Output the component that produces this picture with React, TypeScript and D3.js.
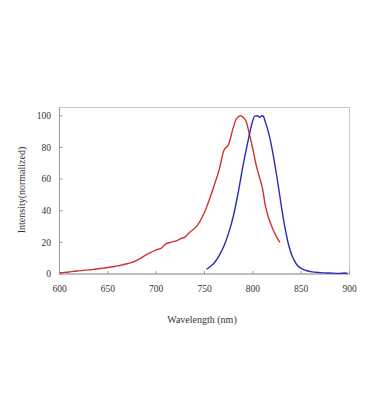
import React from "react";
import * as d3 from "d3";

const redWl = [600,605,610,615,620,625,630,635,640,645,650,655,660,665,670,675,680,685,690,695,700,705,710,715,720,725,730,735,740,745,750,755,760,765,770,775,780,783,787,790,793,797,800,803,806,810,813,816,819,822,825,828];
const redVal = [0.8,1.0,1.3,1.7,2.0,2.3,2.6,2.9,3.3,3.7,4.1,4.6,5.1,5.8,6.5,7.3,8.6,10.4,12.2,13.8,15.3,16.2,19.0,20.0,20.8,22.2,23.5,26.5,29.0,33.0,39.0,47,56,65.5,78,82,93,98,100,99,96.5,87,79,70,63,54,43,36,31,26.5,23,20];
const blueWl = [752,755,760,765,770,775,780,785,790,795,799,802,805,807,809.5,811,813,816,819,822,825,828,831,834,837,840,843,846,850,855,860,870,880,890,895,898];
const blueVal = [3,4.3,7,11.5,17.5,26,37,52,69,84,95,99.8,100,99,100,99.5,96,90,82,72,61,49,37,27,18.5,12.5,8.5,5.5,3.5,2.2,1.5,0.9,0.6,0.4,0.6,0.3];
const xTicks = [600,650,700,750,800,850,900];
const yTicks = [0,20,40,60,80,100];

export default function App() {
  const left = 59.5, right = 349.5, bottom = 274, top = 107.5;
  const x = d3.scaleLinear().domain([600, 900]).range([left, right]);
  const y = d3.scaleLinear().domain([0, 100]).range([bottom, 115.8]);
  const line = d3.line<[number, number]>().x(d => x(d[0])).y(d => y(d[1])).curve(d3.curveMonotoneX);
  const red = line(redWl.map((w, i) => [w, redVal[i]] as [number, number])) || "";
  const blue = line(blueWl.map((w, i) => [w, blueVal[i]] as [number, number])) || "";
  const font = "'Liberation Serif', 'Times New Roman', serif";
  return (
    <svg width={367} height={419} style={{ position: "absolute", left: 0, top: 0, background: "#fff" }}>
      <rect x={left} y={top} width={right - left} height={bottom - top} fill="#fff" stroke="#c8c8c8" strokeWidth={1} />
      <line x1={left} x2={left} y1={top} y2={bottom} stroke="#9a9a9a" />
      <line x1={left} x2={right} y1={bottom} y2={bottom} stroke="#9a9a9a" />
      {xTicks.map(t => (
        <g key={"x" + t}>
          <line x1={x(t)} x2={x(t)} y1={bottom} y2={bottom - 3} stroke="#9a9a9a" />
          <text x={x(t)} y={292} textAnchor="middle" fontFamily={font} fontSize={9.5} fill="#333">{t}</text>
        </g>
      ))}
      {yTicks.map(t => (
        <g key={"y" + t}>
          <line x1={left} x2={left + 3} y1={y(t)} y2={y(t)} stroke="#9a9a9a" />
          <text x={51} y={y(t) + 3.3} textAnchor="end" fontFamily={font} fontSize={9.5} fill="#333">{t}</text>
        </g>
      ))}
      <path d={red} fill="none" stroke="#cc3333" strokeWidth={1.4} />
      <path d={blue} fill="none" stroke="#2b2bb8" strokeWidth={1.4} />
      <text x={202} y={323} textAnchor="middle" fontFamily={font} fontSize={10} fill="#333">Wavelength (nm)</text>
      <text transform="translate(25,190) rotate(-90)" textAnchor="middle" fontFamily={font} fontSize={10} fill="#333">Intensity(normalized)</text>
    </svg>
  );
}
